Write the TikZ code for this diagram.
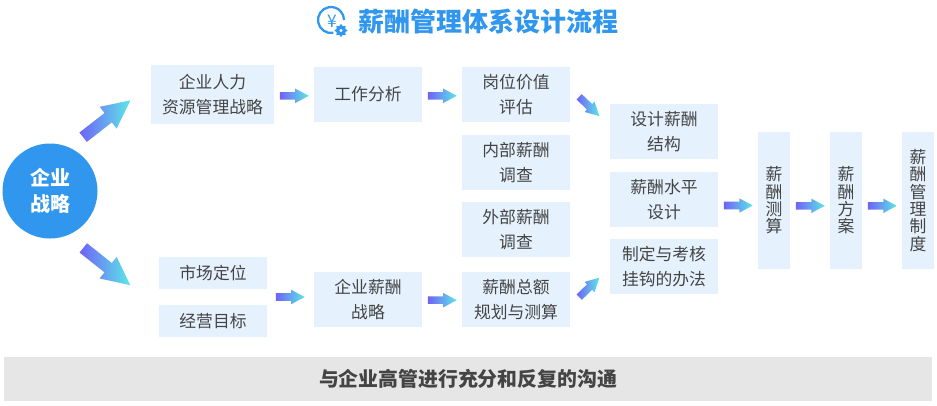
\documentclass[tikz,border=0pt]{standalone}
\usepackage{fontspec}
\usepackage{xcolor}
\setmainfont{Noto Sans CJK SC}
\usetikzlibrary{shapes.arrows, shapes.geometric, positioning, calc}
\definecolor{titleblue}{HTML}{3196EE}
\definecolor{boxfill}{HTML}{E5F2FE}
\definecolor{boxtext}{HTML}{444444}
\definecolor{barfill}{HTML}{E6E6E6}
\definecolor{tailpurple}{HTML}{6F62F6}
\definecolor{midblue}{HTML}{58B0F6}
\definecolor{tipcyan}{HTML}{5CE8E8}

\begin{document}
\begin{tikzpicture}[
    x=0.75pt, y=-0.75pt,
    stepbox/.style={rectangle, fill=boxfill, text=boxtext, inner sep=0pt, outer sep=0pt, font=\fontsize{12.6pt}{18.4pt}\selectfont, align=center, minimum width=81pt, minimum height=41.25pt},
    thinbox/.style={stepbox, minimum height=24pt},
    tallbox/.style={stepbox, minimum width=24pt, minimum height=102.75pt, font=\fontsize{12.6pt}{13pt}\selectfont},
    flowarrow/.style={single arrow, inner sep=0pt, outer sep=0pt, text width=0pt, text height=5.25pt, text depth=0pt, minimum height=21.75pt, single arrow head extend=2.6pt, single arrow tip angle=56, left color=tailpurple, middle color=midblue, right color=tipcyan, sloped, pos=0.42},
    bigarrow/.style={flowarrow, text height=8.55pt, minimum height=45pt, single arrow head extend=5.85pt, single arrow tip angle=52, pos=0.41},
    midarrow/.style={flowarrow, minimum height=21pt, pos=0.38}
]
    \useasboundingbox (0,0) rectangle (937,406);

    % Title
    \node[text=titleblue, font=\fontsize{19.5pt}{22pt}\selectfont\bfseries] (title) at (488,22) {薪酬管理体系设计流程};
    \draw[titleblue, line width=1.7pt] (331,20) ++(80:13) arc[start angle=80, end angle=360, radius=13];
    \node[text=titleblue, inner sep=0pt, font=\fontsize{13pt}{13pt}\selectfont] (yen) at (332,21) {¥};
    \node[star, star points=8, star point ratio=1.45, fill=titleblue, inner sep=0pt, minimum size=10pt] (gear) at (341,30.5) {};
    \node[circle, fill=white, inner sep=0pt, minimum size=2.5pt] (gearhole) at (341,30.5) {};

    % Strategy
    \node[circle, fill=titleblue, text=white, inner sep=0pt, minimum size=71.25pt, font=\fontsize{15pt}{19.5pt}\selectfont\bfseries, align=center] (strategy) at (50,191) {企业\\战略};

    % First row
    \node[stepbox, minimum width=92.25pt, minimum height=44.25pt] (hr) at (212.5,94.5) {企业人力\\资源管理战略};
    \node[stepbox, right=30pt of hr] (job) {工作分析};
    \node[stepbox, right=30pt of job] (value) {岗位价值\\评估};
    \node[stepbox, below=9.75pt of value] (inner) {内部薪酬\\调查};
    \node[stepbox, below=9pt of inner] (outer) {外部薪酬\\调查};
    \node[stepbox, below=11.25pt of outer] (total) {薪酬总额\\规划与测算};
    \node[stepbox, left=30pt of total] (pay) {企业薪酬\\战略};

    % Market
    \node[stepbox, thinbox] (market) at (213,273) {市场定位};
    \node[stepbox, thinbox, below=12pt of market] (goal) {经营目标};

    % Design column
    \node[stepbox] (design) at (664,131.5) {设计薪酬\\结构};
    \node[stepbox, below=9.75pt of design] (level) {薪酬水平\\设计};
    \node[stepbox, below=9pt of level] (tie) {制定与考核\\挂钩的办法};

    % Last steps
    \node[tallbox] (calc) at (774,200.5) {薪\\酬\\测\\算};
    \node[tallbox, right=30pt of calc] (plan) {薪\\酬\\方\\案};
    \node[tallbox, right=30pt of plan] (rule) {薪\\酬\\管\\理\\制\\度};

    % Bottom bar
    \node[fill=barfill, text=boxtext, inner sep=0pt, minimum width=696pt, minimum height=33pt, font=\fontsize{14.9pt}{16pt}\selectfont\bfseries] (talk) at (468,379) {与企业高管进行充分和反复的沟通};

    % Free ends of the diagonal arrows
    \coordinate (upstart) at (82.5,137.7);
    \coordinate (upend) at (130,100.7);
    \coordinate (downstart) at (82.5,247.3);
    \coordinate (downend) at (130,285);
    \coordinate (intostart) at (579,96.7);
    \coordinate (intoend) at (599.3,116);
    \coordinate (outstart) at (579,297.3);
    \coordinate (outend) at (599.3,277.7);
    \coordinate (twoboxes) at ($(market.east)!0.5!(goal.east)$);

    % Connections
    \path (upstart) -- node[bigarrow] (arrowup) {} (upend);
    \path (downstart) -- node[bigarrow] (arrowdown) {} (downend);
    \path ([yshift=-1pt]hr.east) -- node[flowarrow] (arrowjob) {} ([yshift=-1pt]job.west);
    \path ([yshift=-1pt]job.east) -- node[flowarrow] (arrowvalue) {} ([yshift=-1pt]value.west);
    \path (twoboxes) -- node[flowarrow] (arrowpay) {} (twoboxes -| pay.west);
    \path ([yshift=-0.5pt]pay.east) -- node[flowarrow] (arrowtotal) {} ([yshift=-0.5pt]total.west);
    \path (intostart) -- node[midarrow] (arrowinto) {} (intoend);
    \path (outstart) -- node[midarrow] (arrowout) {} (outend);
    \path ([yshift=-4.5pt]level.east) -- node[flowarrow] (arrowcalc) {} ([yshift=-4.5pt]level.east -| calc.west);
    \path ([yshift=-4pt]calc.east) -- node[flowarrow] (arrowplan) {} ([yshift=-4pt]plan.west);
    \path ([yshift=-4pt]plan.east) -- node[flowarrow] (arrowrule) {} ([yshift=-4pt]rule.west);
\end{tikzpicture}
\end{document}
